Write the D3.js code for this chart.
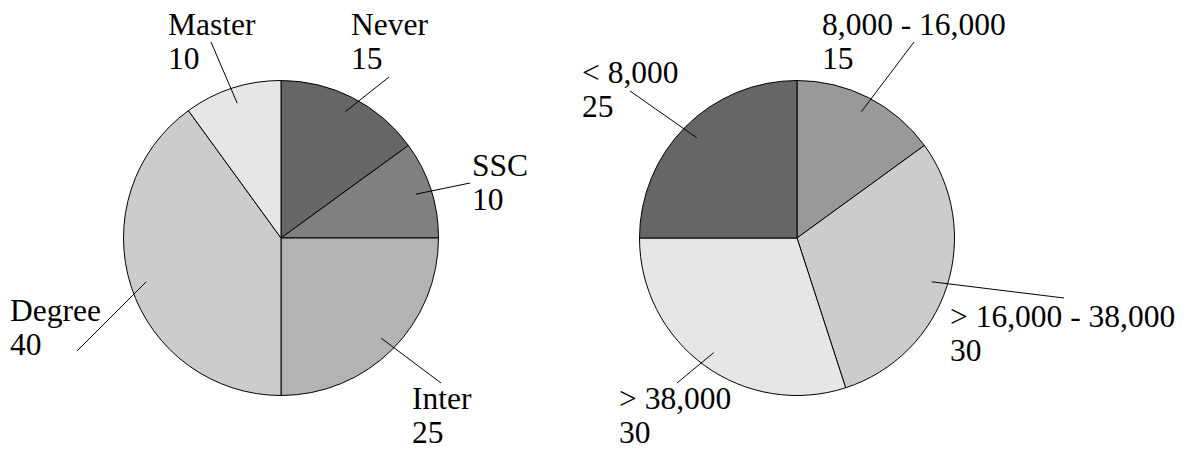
<!DOCTYPE html>
<html>
<head>
<meta charset="utf-8">
<script src="https://cdn.jsdelivr.net/npm/d3@7/dist/d3.min.js"></script>
<style>
  html, body { margin: 0; padding: 0; background: #fff; }
  svg { display: block; }
  svg text { font-family: 'Liberation Serif', Tinos, 'Times New Roman', Times, 'DejaVu Serif', serif; font-size: 31.5px; fill: #000; }
</style>
</head>
<body>
<svg id="chart" width="1192" height="450"></svg>
<script>
// Education level shares
const eduLabels = ["Never", "SSC", "Inter", "Degree", "Master"];
const eduValues = [15, 10, 25, 40, 10];
const eduColors = ["#666666", "#808080", "#b3b3b3", "#cccccc", "#e6e6e6"];

// Monthly income shares
const incomeLabels = ["8,000 - 16,000", "> 16,000 - 38,000", "> 38,000", "< 8,000"];
const incomeValues = [15, 30, 30, 25];
const incomeColors = ["#999999", "#cccccc", "#e6e6e6", "#666666"];

// Label placement, relative to each pie's centre: text block origin and leader end
const eduTextPos  = [[70, -203], [191, -62], [131, 171], [-271, 83], [-113, -203]];
const eduLeadEnd  = [[108, -161], [189, -55], [160, 145], [-204, 113], [-70, -196]];
const incTextPos  = [[25, -203], [153, 89], [-178, 171], [-215, -155]];
const incLeadEnd  = [[117, -196], [267, 60], [-120, 145], [-167, -147]];

const svg = d3.select("#chart");
const radius = 157.5;
const lineGap = 34;
const fontStack = "'Liberation Serif', Tinos, 'Times New Roman', Times, 'DejaVu Serif', serif";

function drawPie(cx, cy, labels, values, colors, textPos, leadEnd) {
  const g = svg.append("g").attr("transform", `translate(${cx},${cy})`);
  const pie = d3.pie().sort(null).value(d => d.value);
  const arcs = pie(labels.map((l, i) => ({ label: l, value: values[i], color: colors[i] })));
  const arc = d3.arc().innerRadius(0).outerRadius(radius);
  const leadArc = d3.arc().innerRadius(radius * 0.9).outerRadius(radius * 0.9);

  g.selectAll("path.slice")
    .data(arcs)
    .join("path")
    .attr("class", "slice")
    .attr("d", arc)
    .attr("fill", d => d.data.color)
    .attr("stroke", "#000")
    .attr("stroke-width", 1)
    .attr("stroke-linejoin", "round");

  g.selectAll("line.leader")
    .data(arcs)
    .join("line")
    .attr("class", "leader")
    .attr("x1", d => leadArc.centroid(d)[0])
    .attr("y1", d => leadArc.centroid(d)[1])
    .attr("x2", (d, i) => leadEnd[i][0])
    .attr("y2", (d, i) => leadEnd[i][1])
    .attr("stroke", "#000")
    .attr("stroke-width", 1);

  const lbl = g.selectAll("text.lbl")
    .data(arcs)
    .join("text")
    .attr("class", "lbl")
    .attr("font-family", fontStack)
    .attr("font-size", 31.5)
    .attr("transform", (d, i) => `translate(${textPos[i][0]},${textPos[i][1]})`);
  lbl.append("tspan").attr("x", 0).attr("y", 0).text(d => d.data.label);
  lbl.append("tspan").attr("x", 0).attr("y", lineGap).text(d => d.data.value);
}

drawPie(281, 238, eduLabels, eduValues, eduColors, eduTextPos, eduLeadEnd);
drawPie(797, 238, incomeLabels, incomeValues, incomeColors, incTextPos, incLeadEnd);
</script>
</body>
</html>
